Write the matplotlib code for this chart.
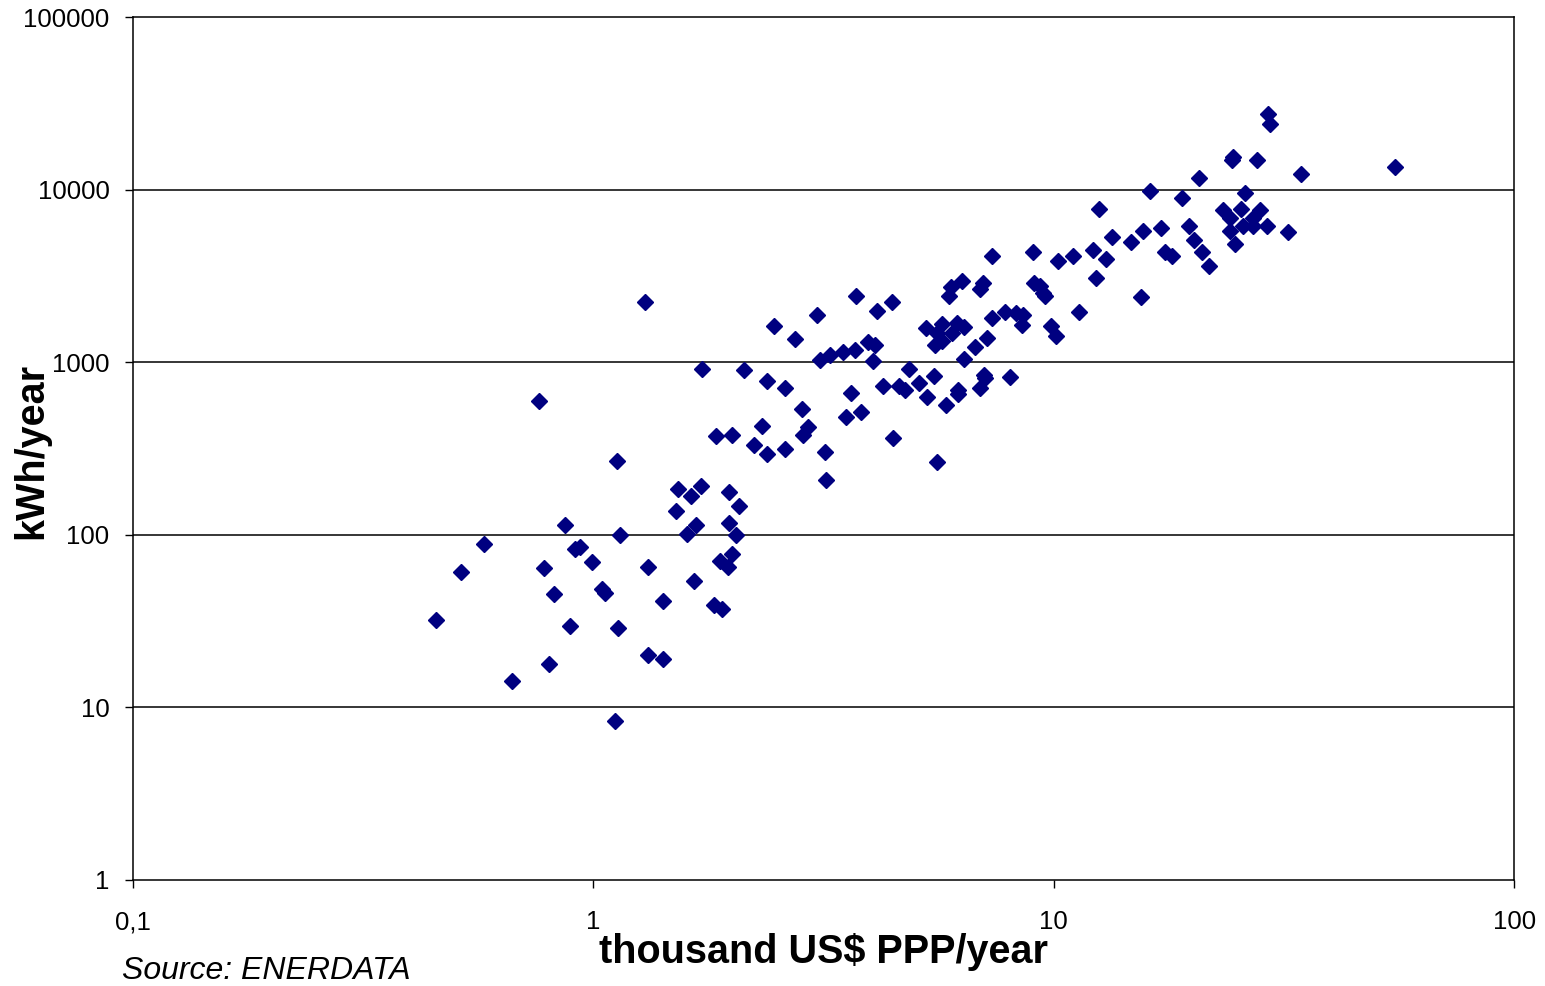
import matplotlib
matplotlib.use("Agg")
import matplotlib.pyplot as plt

plt.rcParams['font.family'] = ['Liberation Sans', 'DejaVu Sans']

# GDP per capita (thousand US$ PPP/year)
gdp = [0.455, 0.516, 0.579, 0.667, 0.761, 0.780, 0.800, 0.820, 0.868, 0.890,
       0.912, 0.936, 0.992, 1.043, 1.060, 1.115, 1.124, 1.133, 1.143, 1.293,
       1.315, 1.315, 1.415, 1.416, 1.512, 1.525, 1.601, 1.628, 1.655, 1.669,
       1.712, 1.725, 1.826, 1.845, 1.885, 1.904, 1.972, 1.972, 1.965, 2.004,
       2.004, 2.039, 2.073, 2.122, 2.231, 2.325, 2.384, 2.384, 2.465, 2.609,
       2.609, 2.747, 2.837, 2.859, 2.923, 3.058, 3.109, 3.187, 3.207, 3.262,
       3.487, 3.545, 3.635, 3.698, 3.716, 3.815, 3.945, 4.046, 4.093, 4.140,
       4.254, 4.47, 4.463, 4.615, 4.756, 4.859, 5.108, 5.274, 5.301, 5.498,
       5.526, 5.572, 5.589, 5.714, 5.714, 5.830, 5.921, 5.98, 6.008, 6.161,
       6.195, 6.21, 6.32, 6.374, 6.374, 6.761, 6.921, 6.921, 7.036, 7.061,
       7.096, 7.157, 7.348, 7.348, 7.843, 8.042, 8.287, 8.524, 8.593, 9.020,
       9.066, 9.342, 9.497, 9.579, 9.856, 10.12, 10.24, 11.02, 11.37, 12.16,
       12.36, 12.55, 13.00, 13.35, 14.73, 15.46, 15.59, 16.2, 17.12, 17.46,
       18.08, 19.01, 19.66, 20.16, 20.67, 21.01, 21.73, 23.37, 24.13, 24.13,
       24.5, 24.37, 24.78, 25.50, 25.83, 26.06, 27.15, 27.15, 27.62, 28.08,
       29.04, 29.27, 29.52, 32.26, 34.47, 55.17]

# Electricity consumption per capita (kWh/year)
kwh = [31.8, 60.7, 88.2, 14.1, 593, 63.7, 17.7, 45.0, 114, 29.6,
       82.5, 84.5, 69.6, 48.3, 45.8, 8.28, 268, 28.8, 99, 2218,
       65.1, 20.0, 41.0, 19.1, 137, 185, 101, 168, 54.0, 114,
       191, 918, 39.3, 372, 70, 37.2, 117, 177, 65, 77.2,
       380, 99, 147, 898, 331, 427, 779, 294, 1630, 710,
       315, 1370, 538, 380, 421, 1889, 1030, 302, 208, 1107,
       1150, 480, 663, 1180, 2430, 512, 1310, 1010, 1265, 1967,
       727, 364, 2218, 727, 693, 918, 761, 1570, 630, 836,
       1265, 1480, 262, 1655, 1330, 563, 2403, 2735, 1480, 1691,
       693, 655, 2970, 1600, 1049, 1232, 710, 2639, 2886, 846,
       810, 1375, 1800, 4140, 1960, 820, 1940, 1650, 1889, 4330,
       2886, 2780, 2525, 2420, 1620, 1410, 3851, 4140, 1960, 4442,
       3069, 7717, 3940, 5337, 4991, 2390, 5728, 9775, 6018, 4355,
       4130, 8904, 6165, 5112, 11740, 4340, 3588, 7640, 6860, 5730,
       15540, 14800, 4846, 7700, 6165, 9517, 6860, 6190, 14800, 7640,
       6140, 27350, 23930, 5700, 12270, 13470]

x_ticks = [0.1, 1, 10, 100]
x_tick_labels = ["0,1", "1", "10", "100"]
y_ticks = [1, 10, 100, 1000, 10000, 100000]
y_tick_labels = ["1", "10", "100", "1000", "10000", "100000"]

fig = plt.figure(figsize=(15.45, 9.86), dpi=100)
ax = fig.add_axes([0.0861, 0.108, 0.8939, 0.8745])

ax.set_xscale('log')
ax.set_yscale('log')
ax.set_xlim(0.1, 100)
ax.set_ylim(1, 100000)

for yv in y_ticks[1:-1]:
    ax.axhline(yv, color='black', lw=1.1, zorder=1)

ax.plot(gdp, kwh, linestyle='none', marker='D', markersize=8.3,
        color='#000080', markeredgecolor='#000080', zorder=3)

ax.set_xticks(x_ticks)
ax.set_xticklabels(x_tick_labels)
ax.set_yticks(y_ticks)
ax.set_yticklabels(y_tick_labels)
ax.minorticks_off()
ax.tick_params(axis='both', which='major', direction='out', length=6,
               width=1, labelsize=18.5, colors='black')
ax.tick_params(axis='x', pad=16)
ax.tick_params(axis='y', pad=11)

for s in ax.spines.values():
    s.set_color('black')
    s.set_linewidth(1.1)

fig.text(0.533, 0.034, "thousand US$ PPP/year", fontsize=28.5, fontweight='bold',
         ha='center', va='center')
fig.text(0.020, 0.543, "kWh/year", fontsize=28.5, fontweight='bold',
         rotation=90, ha='center', va='center')
fig.text(0.079, 0.015, "Source: ENERDATA", fontsize=23, style='italic',
         ha='left', va='center')

fig.savefig("out.png", dpi=100)
